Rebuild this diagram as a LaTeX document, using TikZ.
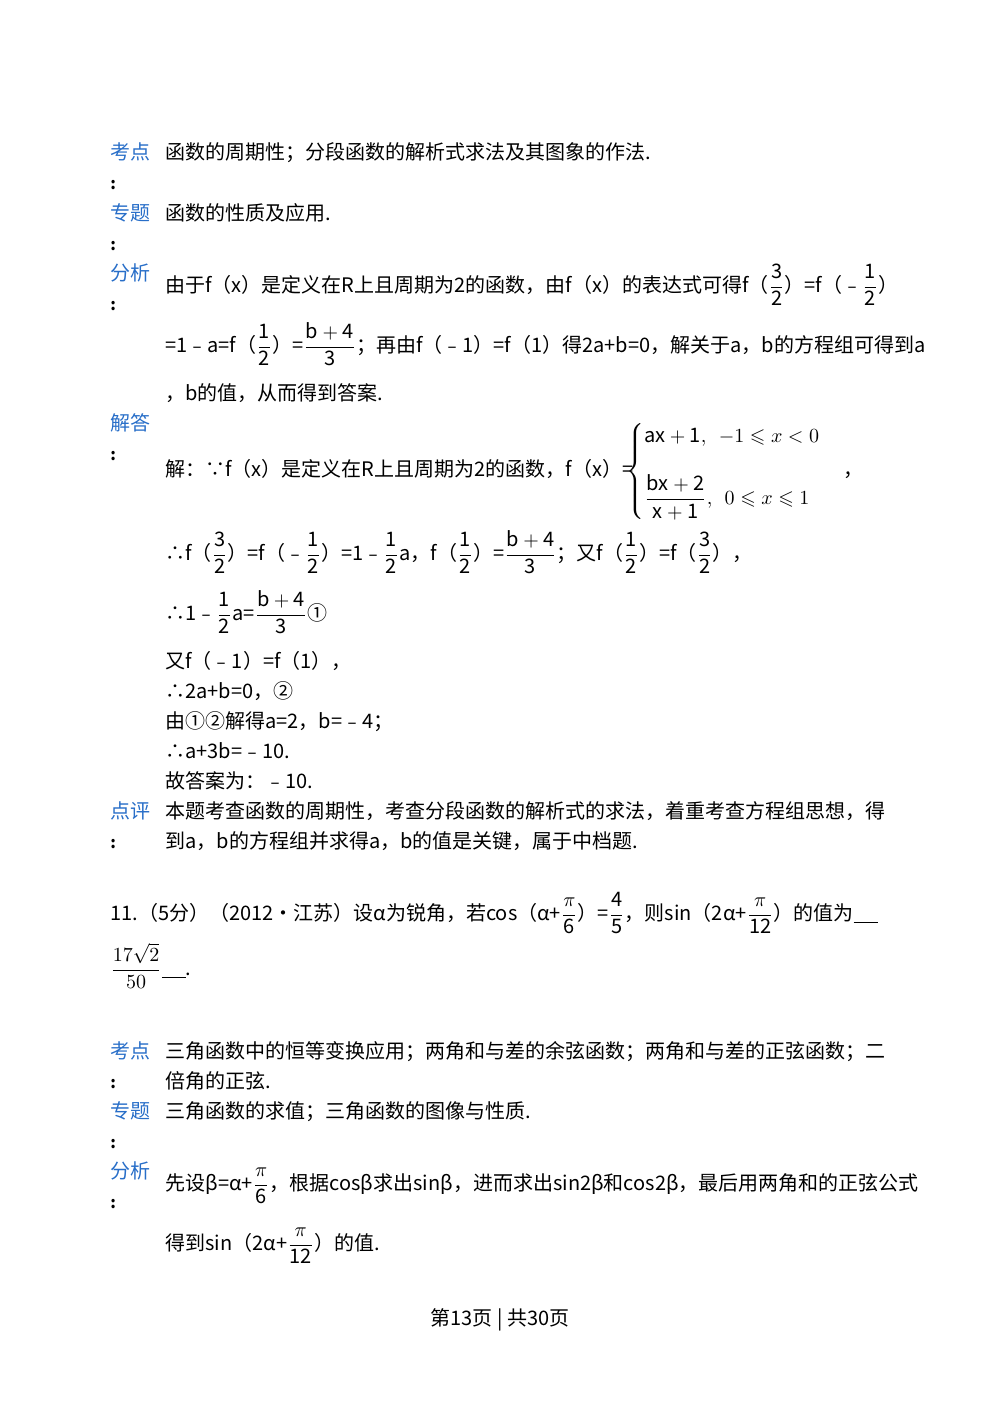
\documentclass[tikz,border=0pt]{standalone}
\usepackage{amsmath,amssymb}
\usepackage{fontspec}
\setmainfont{Noto Sans CJK SC}
\definecolor{lab}{RGB}{40,110,200}
\begin{document}
\begin{tikzpicture}[x=0.5pt,y=-0.5pt,
  t/.style={anchor=base west,inner sep=0,font=\fontsize{10}{12}\selectfont},
  l/.style={t,text=lab},
  c/.style={t,font=\fontsize{8}{10}\selectfont\bfseries}]
\useasboundingbox (0,0) rectangle (1000,1413);
\newcommand{\fr}[2]{\ensuremath{\dfrac{\mathrm{#1}}{\mathrm{#2}}}}
% first problem
\node[l] (k1) at (110,160) {考点};
\node[c] (k1c) at (110,190) {:};
\node[t] (k1t) at (165,160) {函数的周期性；分段函数的解析式求法及其图象的作法.};
\node[l] (z1) at (110,220) {专题};
\node[c] (z1c) at (110,250) {:};
\node[t] (z1t) at (165,220) {函数的性质及应用.};
\node[l] (f1) at (110,280) {分析};
\node[c] (f1c) at (110,310) {:};
\node[t] (f1a) at (165,292) {由于f（x）是定义在R上且周期为2的函数，由f（x）的表达式可得f（\fr{3}{2}）=f（﹣\fr{1}{2}）};
\node[t] (f1b) at (165,352) {=1﹣a=f（\fr{1}{2}）=\fr{b+4}{3}；再由f（﹣1）=f（1）得2a+b=0，解关于a，b的方程组可得到a};
\node[t] (f1d) at (165,400) {，b的值，从而得到答案.};
\node[l] (j1) at (110,430) {解答};
\node[c] (j1c) at (110,460) {:};
\node[t] (j1a) at (165,476) {解：∵f（x）是定义在R上且周期为2的函数，f（x）=};
\node[t] (cases) at (626,476) {$\begin{cases}\mathrm{ax+1},\ \ -1\leqslant x<0\\[12pt] \dfrac{\mathrm{bx+2}}{\mathrm{x+1}},\ \ 0\leqslant x\leqslant 1\end{cases}$};
\node[t] (comma) at (843,476) {，};
\node[t] (j1b) at (165,560) {∴f（\fr{3}{2}）=f（﹣\fr{1}{2}）=1﹣\fr{1}{2}a，f（\fr{1}{2}）=\fr{b+4}{3}；又f（\fr{1}{2}）=f（\fr{3}{2}），};
\node[t] (j1d) at (165,620) {∴1﹣\fr{1}{2}a=\fr{b+4}{3}①};
\node[t] (j1e) at (165,668) {又f（﹣1）=f（1），};
\node[t] (j1f) at (165,698) {∴2a+b=0，②};
\node[t] (j1g) at (165,728) {由①②解得a=2，b=﹣4；};
\node[t] (j1h) at (165,758) {∴a+3b=﹣10.};
\node[t] (j1i) at (165,788) {故答案为：﹣10.};
\node[l] (d1) at (110,818) {点评};
\node[c] (d1c) at (110,848) {:};
\node[t] (d1a) at (165,818) {本题考查函数的周期性，考查分段函数的解析式的求法，着重考查方程组思想，得};
\node[t] (d1b) at (165,848) {到a，b的方程组并求得a，b的值是关键，属于中档题.};
% problem 11
\node[t] (p11) at (110,920) {11.（5分）（2012•江苏）设α为锐角，若cos（α+\fr{\pi}{6}）=\fr{4}{5}，则sin（2α+\fr{\pi}{12}）的值为\underline{\hspace{12pt}}};
\node[t] (ans) at (110,975) {$\dfrac{17\sqrt{2}}{50}$\underline{\hspace{12pt}}.};
\node[l] (k2) at (110,1058) {考点};
\node[c] (k2c) at (110,1088) {:};
\node[t] (k2a) at (165,1058) {三角函数中的恒等变换应用；两角和与差的余弦函数；两角和与差的正弦函数；二};
\node[t] (k2b) at (165,1088) {倍角的正弦.};
\node[l] (z2) at (110,1118) {专题};
\node[c] (z2c) at (110,1148) {:};
\node[t] (z2t) at (165,1118) {三角函数的求值；三角函数的图像与性质.};
\node[l] (f2) at (110,1178) {分析};
\node[c] (f2c) at (110,1208) {:};
\node[t] (f2a) at (165,1190) {先设β=α+\fr{\pi}{6}，根据cosβ求出sinβ，进而求出sin2β和cos2β，最后用两角和的正弦公式};
\node[t] (f2b) at (165,1250) {得到sin（2α+\fr{\pi}{12}）的值.};
\node[t,anchor=base] (foot) at (500,1325) {第13页 | 共30页};
\end{tikzpicture}
\end{document}
